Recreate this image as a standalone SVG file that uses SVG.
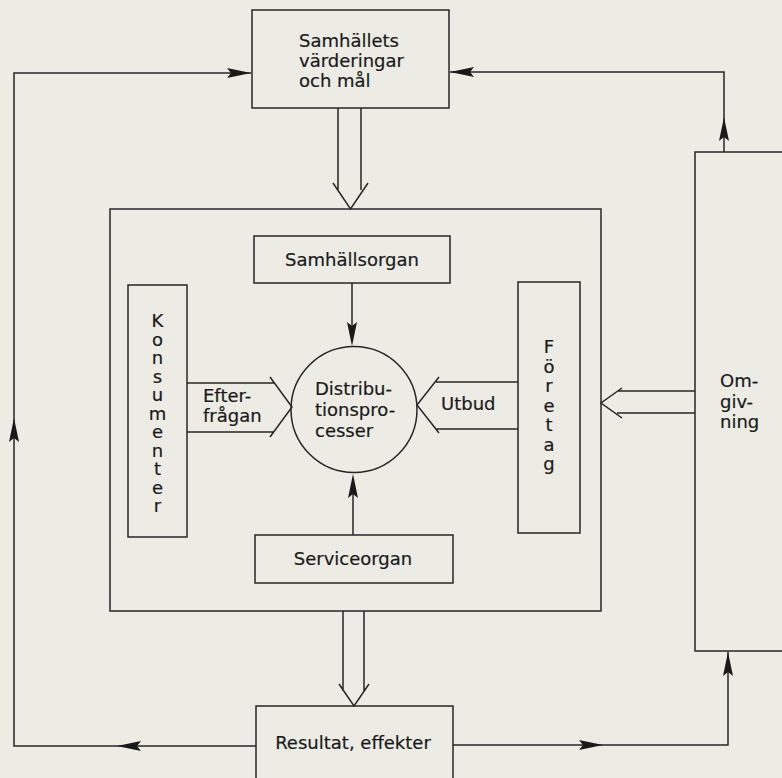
<svg xmlns="http://www.w3.org/2000/svg" xmlns:xlink="http://www.w3.org/1999/xlink" width="782" height="778" viewBox="0 0 782 778">
<style>
.bx{fill:none;stroke:#262626;stroke-width:1.5}
.ln{fill:none;stroke:#262626;stroke-width:1.5;stroke-linejoin:miter}
.t{font-family:"DejaVu Sans",Verdana,sans-serif;font-size:18px;fill:#1a1a1a;stroke:#1a1a1a;stroke-width:0.2}
.m{text-anchor:middle}
</style>
<defs>
<path id="ah" d="M0,0 L-24,-5 L-20,0 L-24,5 Z" fill="#1a1a1a"/>
</defs>
<rect width="782" height="778" fill="#ecece4"/>

<g id="connectors">
  <!-- left feedback loop -->
  <path class="ln" d="M256,746 H14 V73 H251"/>
  <use xlink:href="#ah" transform="translate(117,746) rotate(180)"/>
  <use xlink:href="#ah" transform="translate(14,418) rotate(-90)"/>
  <use xlink:href="#ah" transform="translate(251,73)"/>
  <!-- right loop -->
  <path class="ln" d="M453,745 H728 V652"/>
  <use xlink:href="#ah" transform="translate(603,745)"/>
  <use xlink:href="#ah" transform="translate(728,652) rotate(-90)"/>
  <!-- omgivning to values -->
  <path class="ln" d="M724,152 V72 H450"/>
  <use xlink:href="#ah" transform="translate(724,117) rotate(-90)"/>
  <use xlink:href="#ah" transform="translate(450,72) rotate(180)"/>
  <!-- double arrow values -> system -->
  <path class="ln" d="M338,108 V190 M361,108 V190 M333,183 L350.5,209 L368,183"/>
  <!-- samhallsorgan -> process -->
  <path class="ln" d="M352,283 V330"/>
  <use xlink:href="#ah" transform="translate(352,346) rotate(90)"/>
  <!-- serviceorgan -> process -->
  <path class="ln" d="M353,535 V490"/>
  <use xlink:href="#ah" transform="translate(353,474) rotate(-90)"/>
  <!-- efterfragan -->
  <path class="ln" d="M187,383 H274 M187,432 H274 M270,377 L292,407 L270,437"/>
  <!-- utbud -->
  <path class="ln" d="M518,382 H436 M518,429 H436 M439,377 L417,405 L439,433"/>
  <!-- omgivning -> system -->
  <path class="ln" d="M695,391 H618 M695,413 H617 M622,388 L601,403 L622,418"/>
  <!-- system -> resultat -->
  <path class="ln" d="M343,611 V691 M364,611 V691 M339,684 L354,706 L369,684"/>
</g>

<g id="values">
  <rect class="bx" x="252" y="10" width="197" height="98"/>
  <text class="t" x="299" y="47">Samhällets</text>
  <text class="t" x="299" y="67">värderingar</text>
  <text class="t" x="299" y="87">och mål</text>
</g>

<g id="system">
  <rect class="bx" x="110" y="209" width="491" height="402"/>
</g>

<g id="samhallsorgan">
  <rect class="bx" x="254" y="236" width="196" height="47"/>
  <text class="t m" x="352" y="266">Samhällsorgan</text>
</g>

<g id="konsumenter">
  <rect class="bx" x="128" y="285" width="59" height="252"/>
  <text class="t m">
    <tspan x="157.5" y="327">K</tspan><tspan x="157.5" y="345.5">o</tspan><tspan x="157.5" y="364">n</tspan><tspan x="157.5" y="382.5">s</tspan><tspan x="157.5" y="401">u</tspan><tspan x="157.5" y="419.5">m</tspan><tspan x="157.5" y="438">e</tspan><tspan x="157.5" y="456.5">n</tspan><tspan x="157.5" y="475">t</tspan><tspan x="157.5" y="493.5">e</tspan><tspan x="157.5" y="512">r</tspan>
  </text>
</g>

<g id="efterfragan">
  <text class="t" x="203" y="402">Efter-</text>
  <text class="t" x="203" y="422">frågan</text>
</g>

<g id="process">
  <circle class="bx" cx="354" cy="409.5" r="63"/>
  <text class="t" x="315" y="395">Distribu-</text>
  <text class="t" x="315" y="416">tionspro-</text>
  <text class="t" x="315" y="437">cesser</text>
</g>

<g id="utbud">
  <text class="t" x="441" y="410">Utbud</text>
</g>

<g id="foretag">
  <rect class="bx" x="518" y="282" width="62" height="251"/>
  <text class="t m">
    <tspan x="549" y="353">F</tspan><tspan x="549" y="372.5">ö</tspan><tspan x="549" y="392">r</tspan><tspan x="549" y="411.5">e</tspan><tspan x="549" y="431">t</tspan><tspan x="549" y="450.5">a</tspan><tspan x="549" y="470">g</tspan>
  </text>
</g>

<g id="serviceorgan">
  <rect class="bx" x="255" y="535" width="198" height="48"/>
  <text class="t m" x="353" y="565">Serviceorgan</text>
</g>

<g id="omgivning">
  <rect class="bx" x="695" y="152" width="110" height="499"/>
  <text class="t" x="720" y="387">Om-</text>
  <text class="t" x="720" y="408">giv-</text>
  <text class="t" x="720" y="428">ning</text>
</g>

<g id="resultat">
  <rect class="bx" x="256" y="706" width="197" height="90"/>
  <text class="t m" x="353" y="749">Resultat, effekter</text>
</g>
</svg>
